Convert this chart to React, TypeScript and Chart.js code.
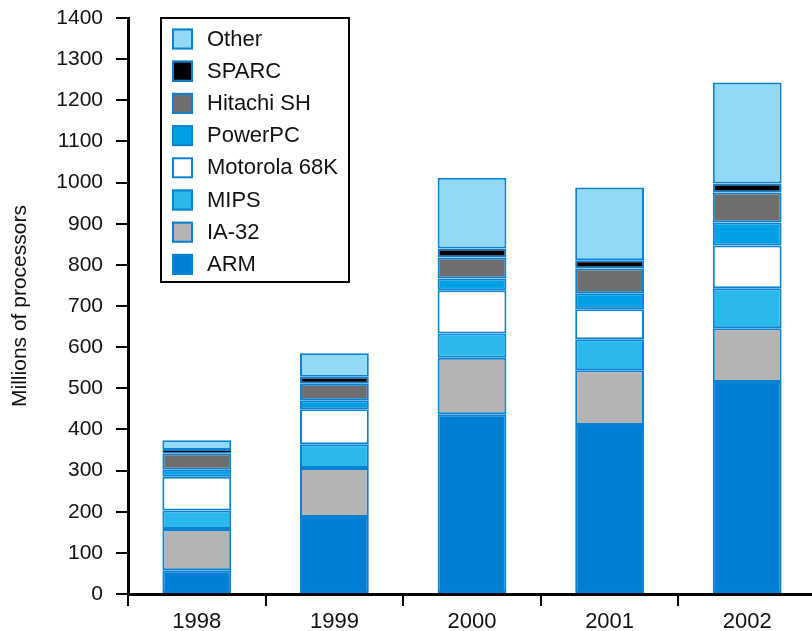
import React, { useEffect, useRef } from "react";
import { Chart, registerables } from "chart.js";

Chart.register(...registerables);

const categories = ["1998", "1999", "2000", "2001", "2002"];
const arm = [58, 187, 437, 411, 515];
const ia32 = [100, 119, 137, 133, 131];
const mips = [45, 58, 59, 75, 97];
const motorola = [82, 85, 105, 73, 104];
const powerpc = [17, 22, 29, 39, 56];
const hitachi = [40, 40, 51, 60, 73];
const sparc = [8, 17, 22, 20, 22];
const other = [24, 57, 172, 177, 245];

const yTicks = { min: 0, max: 1400, step: 100 };

const FONT = "'Liberation Sans', Arial, sans-serif";
const EDGE = "#0a82d4";

const legendPlugin = {
  id: "boxLegend",
  afterDraw(chart: any) {
    const ctx = chart.ctx;
    ctx.save();
    ctx.fillStyle = "#fff";
    ctx.fillRect(161, 18, 188, 264);
    ctx.lineWidth = 2;
    ctx.strokeStyle = "#000";
    ctx.strokeRect(161, 18, 188, 264);
    const ds = chart.data.datasets.slice().reverse();
    ds.forEach((d: any, i: number) => {
      const cy = 38.5 + i * 32.2;
      ctx.fillStyle = d.backgroundColor;
      ctx.fillRect(172, cy - 10, 21, 21);
      ctx.lineWidth = 2;
      ctx.strokeStyle = EDGE;
      ctx.strokeRect(173, cy - 9, 19, 19);
      ctx.fillStyle = "#111";
      ctx.font = `22px ${FONT}`;
      ctx.textBaseline = "middle";
      ctx.textAlign = "left";
      ctx.fillText(d.label, 207, cy + 1);
    });
    ctx.restore();
  },
};

export default function App() {
  const ref = useRef<HTMLCanvasElement | null>(null);
  useEffect(() => {
    if (!ref.current) return;
    const mk = (label: string, data: number[], color: string) => ({
      label,
      data,
      backgroundColor: color,
      borderColor: EDGE,
      borderWidth: (c: any) => (c.raw !== undefined && c.raw < 12 ? 1 : 2),
      borderSkipped: false,
      barPercentage: 0.5,
      categoryPercentage: 1.0,
    });
    const chart = new Chart(ref.current, {
      type: "bar",
      data: {
        labels: categories,
        datasets: [
          mk("ARM", arm, "#0080d4"),
          mk("IA-32", ia32, "#b4b4b4"),
          mk("MIPS", mips, "#2bb9ec"),
          mk("Motorola 68K", motorola, "#ffffff"),
          mk("PowerPC", powerpc, "#00a0e4"),
          mk("Hitachi SH", hitachi, "#6e6e6e"),
          mk("SPARC", sparc, "#000000"),
          mk("Other", other, "#91d9f5"),
        ],
      },
      options: {
        responsive: false,
        animation: false,
        layout: { padding: { top: 18, left: 0, right: 0, bottom: 0 } },
        plugins: {
          legend: { display: false },
          tooltip: { enabled: false },
        },
        scales: {
          x: {
            stacked: true,
            grid: {
              offset: true,
              drawOnChartArea: false,
              drawTicks: true,
              tickLength: 12,
              color: "#000",
              lineWidth: 2,
            },
            border: { display: true, color: "#000", width: 3 },
            ticks: {
              color: "#111",
              font: { family: FONT, size: 22 },
              padding: 3,
            },
            afterFit: (s: any) => {
              s.height = 37;
              s.paddingLeft = 0;
              s.paddingRight = 0;
            },
          },
          y: {
            stacked: true,
            min: yTicks.min,
            max: yTicks.max,
            ticks: {
              stepSize: yTicks.step,
              color: "#111",
              font: { family: FONT, size: 21 },
              padding: 13,
              callback: (v: any) => String(v),
            },
            grid: {
              drawOnChartArea: false,
              drawTicks: true,
              tickLength: 12,
              color: "#000",
              lineWidth: 2,
            },
            border: { display: true, color: "#000", width: 3 },
            title: {
              display: true,
              text: "Millions of processors",
              color: "#111",
              font: { family: FONT, size: 21 },
              padding: { top: 8, bottom: 0 },
            },
            afterFit: (s: any) => {
              s.width = 128;
              s.paddingTop = 0;
              s.paddingBottom = 0;
            },
          },
        },
      },
      plugins: [legendPlugin],
    });
    return () => chart.destroy();
  }, []);
  return (
    <div
      style={{
        position: "fixed",
        left: 0,
        top: 0,
        width: 812,
        height: 631,
        overflow: "hidden",
        background: "#fff",
      }}
    >
      <canvas ref={ref} width={816} height={631} style={{ width: 816, height: 631, display: "block" }} />
    </div>
  );
}
